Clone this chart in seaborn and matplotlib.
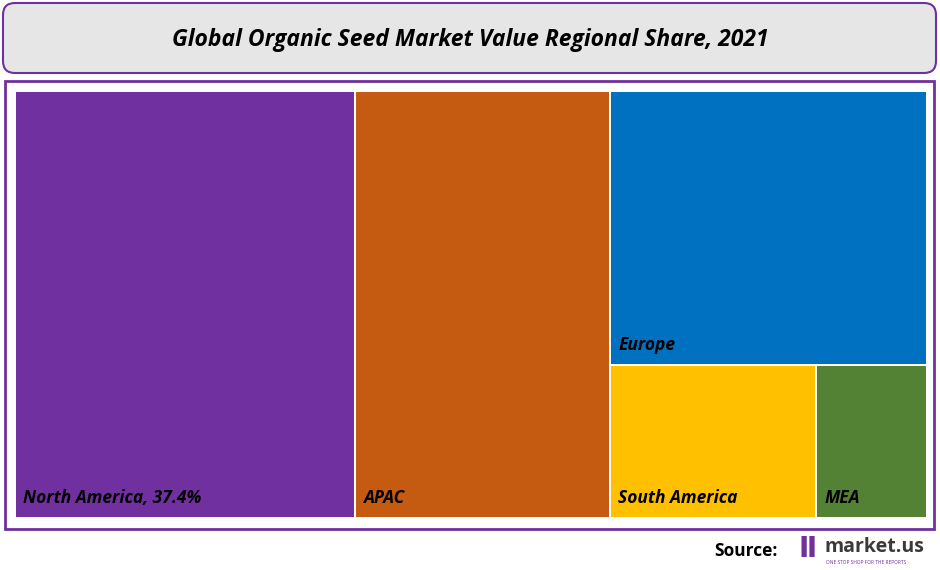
import matplotlib
matplotlib.use("Agg")
import matplotlib.pyplot as plt
import seaborn as sns
from matplotlib.patches import Rectangle, FancyBboxPatch

sns.set_theme(style="white")
plt.rcParams['font.family'] = ['Open Sans', 'DejaVu Sans']

regions = ["North America", "APAC", "Europe", "South America", "MEA"]
shares = [37.4, 28.0, 22.3, 8.0, 4.3]
colors = ["#7030A0", "#C55A11", "#0070C0", "#FFC000", "#548235"]
labels = ["North America, 37.4%", "APAC", "Europe", "South America", "MEA"]

fig = plt.figure(figsize=(9.4, 5.7), dpi=100)
ax = fig.add_axes([0, 0, 1, 1])
ax.set_xlim(0, 940); ax.set_ylim(570, 0); ax.axis("off")

ax.add_patch(FancyBboxPatch((3, 3), 933, 70, boxstyle="round,pad=0,rounding_size=12",
                            fc="#E7E6E6", ec="#7030A0", lw=1.5))
ax.text(470, 40, "Global Organic Seed Market Value Regional Share, 2021", ha="center", va="center",
        fontsize=16.5, fontweight="bold", style="italic", color="black")
ax.add_patch(Rectangle((5, 81), 929, 448, fc="white", ec="#7030A0", lw=2))

X0, Y0, W, H = 16, 92, 910, 425
total = sum(shares)
gap = 2
def cell(x, y, w, h, i):
    ax.add_patch(Rectangle((x, y), w - gap, h - gap, fc=colors[i], ec="none"))
    ax.text(x + 7, y + h - 21, labels[i], ha="left", va="center", fontsize=12.5,
            fontweight="bold", style="italic", color="black")

x = X0
for i in (0, 1):
    w = W * shares[i] / total
    cell(x, Y0, w, H + gap, i)
    x += w
wr = X0 + W - x + gap
rest = sum(shares[2:])
he = H * shares[2] / rest
cell(x, Y0, wr, he, 2)
bot = sum(shares[3:])
ws = wr * shares[3] / bot
cell(x, Y0 + he, ws, H - he + gap, 3)
cell(x + ws, Y0 + he, wr - ws, H - he + gap, 4)

ax.text(778, 551, "Source:", ha="right", va="center", fontsize=12.5, fontweight="bold", color="black")
ax.text(808, 549, "\u2161", ha="center", va="center", fontsize=20, color="#7030A0", fontweight="bold",
        family=['DejaVu Sans'])
ax.text(824, 547, "market.us", ha="left", va="center", fontsize=14, fontweight="bold", color="#3A3A3A")
ax.text(826, 563, "ONE STOP SHOP FOR THE REPORTS", ha="left", va="center", fontsize=3.5, color="#7030A0")

fig.savefig("out.png", dpi=100)
